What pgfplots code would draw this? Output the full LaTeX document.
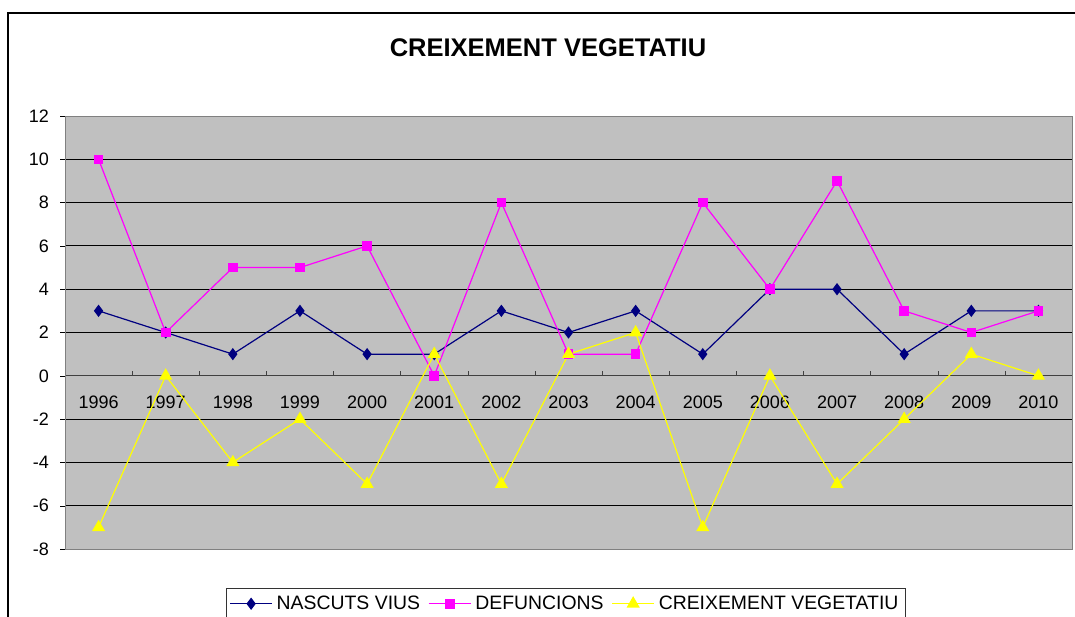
\documentclass[border=0pt]{standalone}
\usepackage{pgfplots}
\pgfplotsset{compat=1.18}
\usepackage{fontspec}
\setmainfont{Liberation Sans}
\usetikzlibrary{calc}
\definecolor{xlgray}{HTML}{C0C0C0}
\definecolor{xnavy}{HTML}{000080}
\definecolor{xmag}{HTML}{FF00FF}
\definecolor{xyel}{HTML}{FFFF00}
\begin{document}
\begin{tikzpicture}
\begin{axis}[
  name=ax,
  scale only axis,
  width=503.5pt, height=216.5pt,
  xmin=-0.5, xmax=14.5, ymin=-8, ymax=12,
  axis x line=middle, axis y line=left,
  axis line style={-},
  x axis line style={draw=black!75, -},
  y axis line style={draw=gray, -},
  axis background/.style={fill=xlgray, draw=gray},
  xtick={0,...,14},
  xticklabels={1996,1997,1998,1999,2000,2001,2002,2003,2004,2005,2006,2007,2008,2009,2010},
  minor xtick={0.5,1.5,...,13.5},
  major x tick style={draw=none},
  minor x tick style={draw=black!75, yshift=1.25pt},
  xtick align=center,
  minor tick length=2.5pt,
  ytick={-6,-4,...,10},
  extra y ticks={-8,12},
  extra y tick style={grid=none},
  ymajorgrids,
  grid style={black, line width=0.5pt},
  ytick align=outside, ytick pos=left,
  major tick length=2.5pt,
  y tick style={draw=black},
  tick label style={font=\fontsize{9}{10}\selectfont},
  /pgf/number format/assume math mode=true,
  yticklabel style={xshift=-2pt},
  xticklabel style={anchor=center, yshift=-11.8pt},
  clip=false,
  legend style={at={(axis description cs:0.4975,-0.09)}, anchor=north,
    legend columns=-1, draw=black!80, line width=0.5pt,
    font=\fontsize{9.7}{11}\selectfont, inner sep=1.5pt,
    /tikz/every even column/.append style={column sep=2pt}},
  legend image code/.code={\draw[mark repeat=2,mark phase=2] plot coordinates {(0pt,0pt)(10.5pt,0pt)(21pt,0pt)};},
  every axis plot/.append style={line width=0.6pt},
]
\addplot[color=xnavy, mark=diamond*, mark size=2.6pt] coordinates {
(0,3)(1,2)(2,1)(3,3)(4,1)(5,1)(6,3)(7,2)(8,3)(9,1)(10,4)(11,4)(12,1)(13,3)(14,3)};
\addlegendentry{NASCUTS VIUS}
\addplot[color=xmag, mark=square*, mark size=2.1pt] coordinates {
(0,10)(1,2)(2,5)(3,5)(4,6)(5,0)(6,8)(7,1)(8,1)(9,8)(10,4)(11,9)(12,3)(13,2)(14,3)};
\addlegendentry{DEFUNCIONS}
\addplot[color=xyel, mark=triangle*, mark size=3.2pt] coordinates {
(0,-7)(1,0)(2,-4)(3,-2)(4,-5)(5,1)(6,-5)(7,1)(8,2)(9,-7)(10,0)(11,-5)(12,-2)(13,1)(14,0)};
\addlegendentry{CREIXEMENT VEGETATIU}
\end{axis}
\node[font=\bfseries\fontsize{12.75}{15}\selectfont] at ($(ax.south west)+(241.5pt,250.5pt)$) {CREIXEMENT VEGETATIU};
\draw[line width=1pt] ($(ax.south west)+(-28.5pt,-40pt)$) rectangle ($(ax.south west)+(510pt,268pt)$);
\pgfresetboundingbox
\path[use as bounding box] ($(ax.south west)+(-32.5pt,-33.5pt)$) rectangle ($(ax.south west)+(505pt,274.5pt)$);
\end{tikzpicture}
\end{document}
